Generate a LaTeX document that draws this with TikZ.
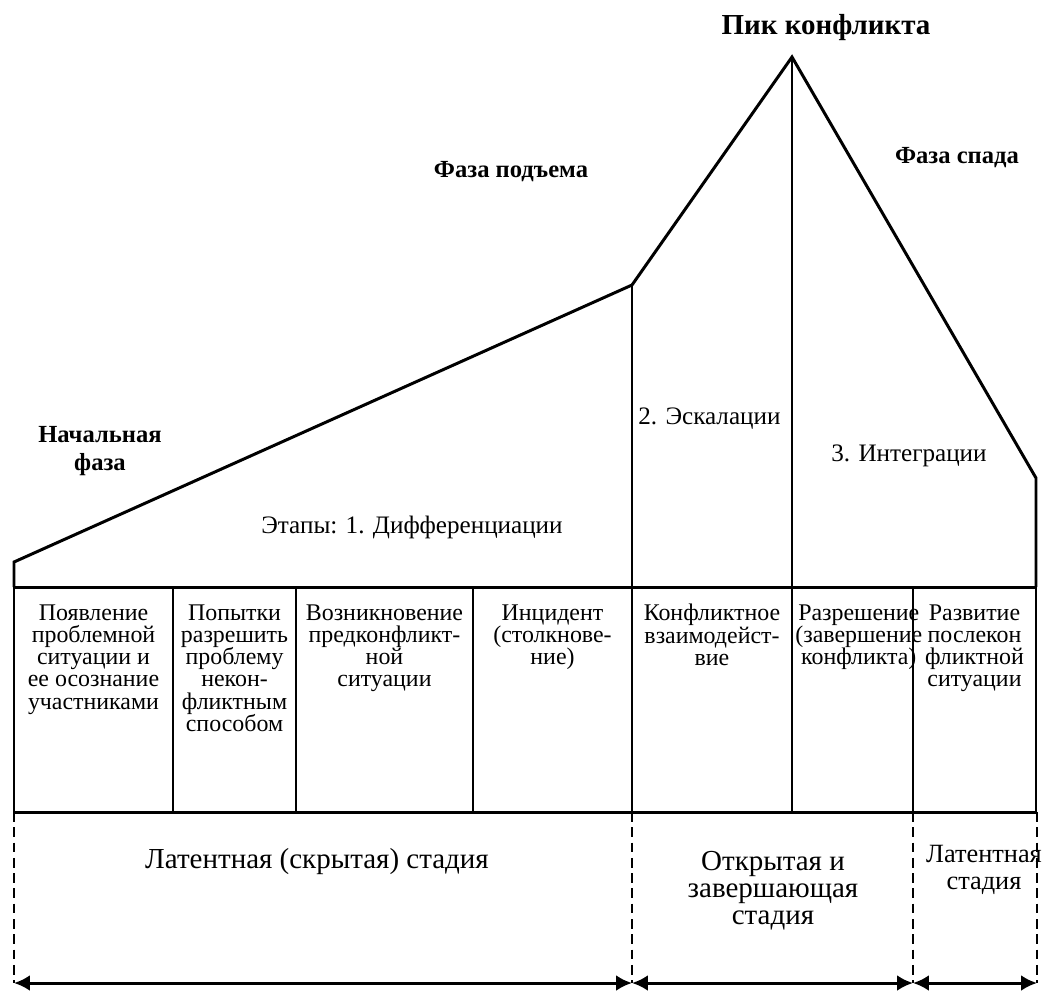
\documentclass[tikz,border=0pt]{standalone}
\usepackage{fontspec}
\setmainfont{Liberation Serif}
\usetikzlibrary{arrows.meta}
\begin{document}
\begin{tikzpicture}[x=0.02cm,y=-0.02cm,
    line/.style = {line width=1.7pt, line join=miter},
    dashline/.style = {line width=1.5pt, dash pattern=on 5.5pt off 3.2pt},
    arrow/.style = {line width=1.7pt, {Latex[length=9pt,width=9pt]}-{Latex[length=9pt,width=9pt]}},
    cell/.style = {anchor=north, align=center, inner sep=0pt, font=\fontsize{13.6}{12.7}\selectfont},
    phase/.style = {align=center, inner sep=0pt, font=\fontsize{14}{16}\selectfont\bfseries},
    stagetext/.style = {align=center, inner sep=0pt, font=\fontsize{14.3}{16}\selectfont},
    stagename/.style = {align=center, inner sep=0pt, font=\fontsize{16.5}{15.3}\selectfont}]
    \useasboundingbox (0,0) rectangle (1046,992);

    % outline of the conflict curve
    \coordinate (start) at (14,562);
    \coordinate (kink) at (632,285);
    \coordinate (peak) at (792,57);
    \coordinate (fall) at (1036,478);
    \draw[line] (14,587) -- (start) -- (kink) -- (peak) -- (fall) -- (1036,587);

    % table
    \draw[line] (14,587) rectangle (1036,812);
    \foreach \x in {173,296,473,913}
        \draw[line] (\x,587) -- (\x,812);
    \draw[line] (kink) -- (632,812);
    \draw[line] (peak) -- (792,812);

    % stage borders
    \foreach \x in {14,632,913,1037}
        \draw[dashline] (\x,812) -- (\x,983);
    \coordinate (a0) at (14,983);
    \coordinate (a1) at (632,983);
    \coordinate (a2) at (913,983);
    \coordinate (a3) at (1037,983);
    \draw[arrow] (a0) -- (a1);
    \draw[arrow] (a1) -- (a2);
    \draw[arrow] (a2) -- (a3);

    % phases
    \node[phase, font=\fontsize{16.5}{18}\selectfont\bfseries] (pik) at (826,28) {Пик конфликта};
    \node[phase] (podem) at (511,172) {Фаза подъема};
    \node[phase] (spad) at (957,158) {Фаза спада};
    \node[phase] (nach) at (100,451) {Начальная\\фаза};

    % stages
    \node[stagetext] (diff) at (412,527) {Этапы: 1. Дифференциации};
    \node[stagetext, anchor=west] (eskal) at (638,419) {2. Эскалации};
    \node[stagetext] (integr) at (909,456) {3. Интеграции};

    % cells
    \node[cell] (c1) at (93.5,604) {Появление\\проблемной\\ситуации и\\ее осознание\\участниками};
    \node[cell] (c2) at (234.5,604) {Попытки\\разрешить\\проблему\\некон-\\фликтным\\способом};
    \node[cell] (c3) at (384.5,604) {Возникновение\\предконфликт-\\ной\\ситуации};
    \node[cell] (c4) at (552.5,604) {Инцидент\\(столкнове-\\ние)};
    \node[cell] (c5) at (712,604) {Конфликтное\\взаимодейст-\\вие};
    \node[cell, anchor=north west] (c6) at (795,604) {Разрешение\\(завершение\\конфликта)};
    \node[cell] (c7) at (974.5,604) {Развитие\\послекон\\фликтной\\ситуации};

    % stage names
    \node[stagename] (latent) at (317,862) {Латентная (скрытая) стадия};
    \node[stagename] (otkr) at (773,891) {Открытая и\\завершающая\\стадия};
    \node[stagename, font=\fontsize{15}{15.5}\selectfont] (latent2) at (984,870) {Латентная\\стадия};
\end{tikzpicture}
\end{document}
